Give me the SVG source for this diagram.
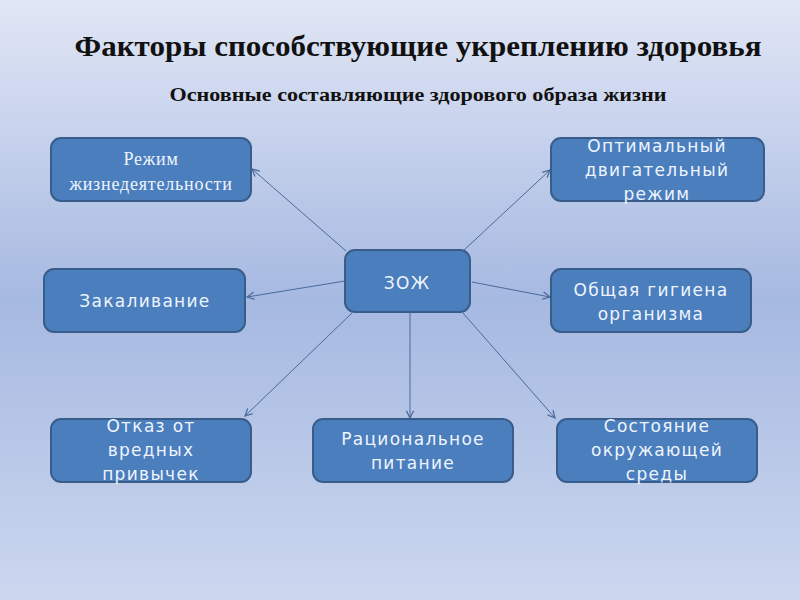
<svg xmlns="http://www.w3.org/2000/svg" width="800" height="600" viewBox="0 0 800 600">
<defs>
<linearGradient id="bg" x1="0" y1="0" x2="0" y2="1">
<stop offset="0" stop-color="#e1e6f5"/>
<stop offset="0.5" stop-color="#a6b9e1"/>
<stop offset="1" stop-color="#ccd7ef"/>
</linearGradient>
<marker id="ah" viewBox="0 0 10 10" refX="9" refY="5" markerWidth="9" markerHeight="9" markerUnits="userSpaceOnUse" orient="auto">
<path d="M1,1 L9,5 L1,9" fill="none" stroke="#4a6a9c" stroke-width="1.4"/>
</marker>
</defs>
<style>
.box{fill:#4b7ebc;stroke:#385d8a;stroke-width:2}
.t{fill:#eef4ff;font-family:"DejaVu Sans","Noto Sans",sans-serif;font-size:17px;letter-spacing:1.3px;text-anchor:middle}
.ts{fill:#eef4ff;font-family:"Liberation Serif",serif;font-size:18px;letter-spacing:0.8px;text-anchor:middle}
.c{stroke:#4a6a9c;stroke-width:1;fill:none;marker-end:url(#ah)}
</style>
<rect width="800" height="600" fill="url(#bg)"/>
<text x="418" y="56" text-anchor="middle" font-family="Liberation Serif,serif" font-weight="bold" font-size="29" fill="#111" textLength="687" lengthAdjust="spacingAndGlyphs">Факторы способствующие укреплению здоровья</text>
<text x="418" y="101" text-anchor="middle" font-family="Liberation Serif,serif" font-weight="bold" font-size="18" fill="#111" textLength="497" lengthAdjust="spacingAndGlyphs">Основные составляющие здорового образа жизни</text>
<g id="connectors">
<line class="c" x1="346" y1="251" x2="252" y2="169"/>
<line class="c" x1="345" y1="281" x2="247" y2="297"/>
<line class="c" x1="463" y1="251" x2="550" y2="170"/>
<line class="c" x1="472" y1="282" x2="550" y2="297"/>
<line class="c" x1="352" y1="313" x2="245" y2="416"/>
<line class="c" x1="410" y1="313" x2="410" y2="418"/>
<line class="c" x1="463" y1="313" x2="555" y2="418"/>
</g>
<g id="n-rezhim">
<rect class="box" x="51" y="138" width="200" height="63" rx="10"/>
<text class="ts" x="151" y="165">Режим</text>
<text class="ts" x="151" y="190">жизнедеятельности</text>
</g>
<g id="n-optimal">
<rect class="box" x="551" y="138" width="213" height="63" rx="10"/>
<text class="t" x="657" y="152">Оптимальный</text>
<text class="t" x="657" y="176">двигательный</text>
<text class="t" x="657" y="200">режим</text>
</g>
<g id="n-zozh">
<rect class="box" x="345" y="250" width="125" height="62" rx="10"/>
<text class="t" x="407" y="289">ЗОЖ</text>
</g>
<g id="n-zakalivanie">
<rect class="box" x="44" y="269" width="201" height="63" rx="10"/>
<text class="t" x="145" y="307">Закаливание</text>
</g>
<g id="n-gigiena">
<rect class="box" x="551" y="269" width="200" height="63" rx="10"/>
<text class="t" x="651" y="296">Общая гигиена</text>
<text class="t" x="651" y="320">организма</text>
</g>
<g id="n-otkaz">
<rect class="box" x="51" y="419" width="200" height="63" rx="10"/>
<text class="t" x="151" y="432">Отказ от</text>
<text class="t" x="151" y="456">вредных</text>
<text class="t" x="151" y="480">привычек</text>
</g>
<g id="n-pitanie">
<rect class="box" x="313" y="419" width="200" height="63" rx="10"/>
<text class="t" x="413" y="445">Рациональное</text>
<text class="t" x="413" y="469">питание</text>
</g>
<g id="n-sreda">
<rect class="box" x="557" y="419" width="200" height="63" rx="10"/>
<text class="t" x="657" y="432">Состояние</text>
<text class="t" x="657" y="456">окружающей</text>
<text class="t" x="657" y="480">среды</text>
</g>
</svg>
